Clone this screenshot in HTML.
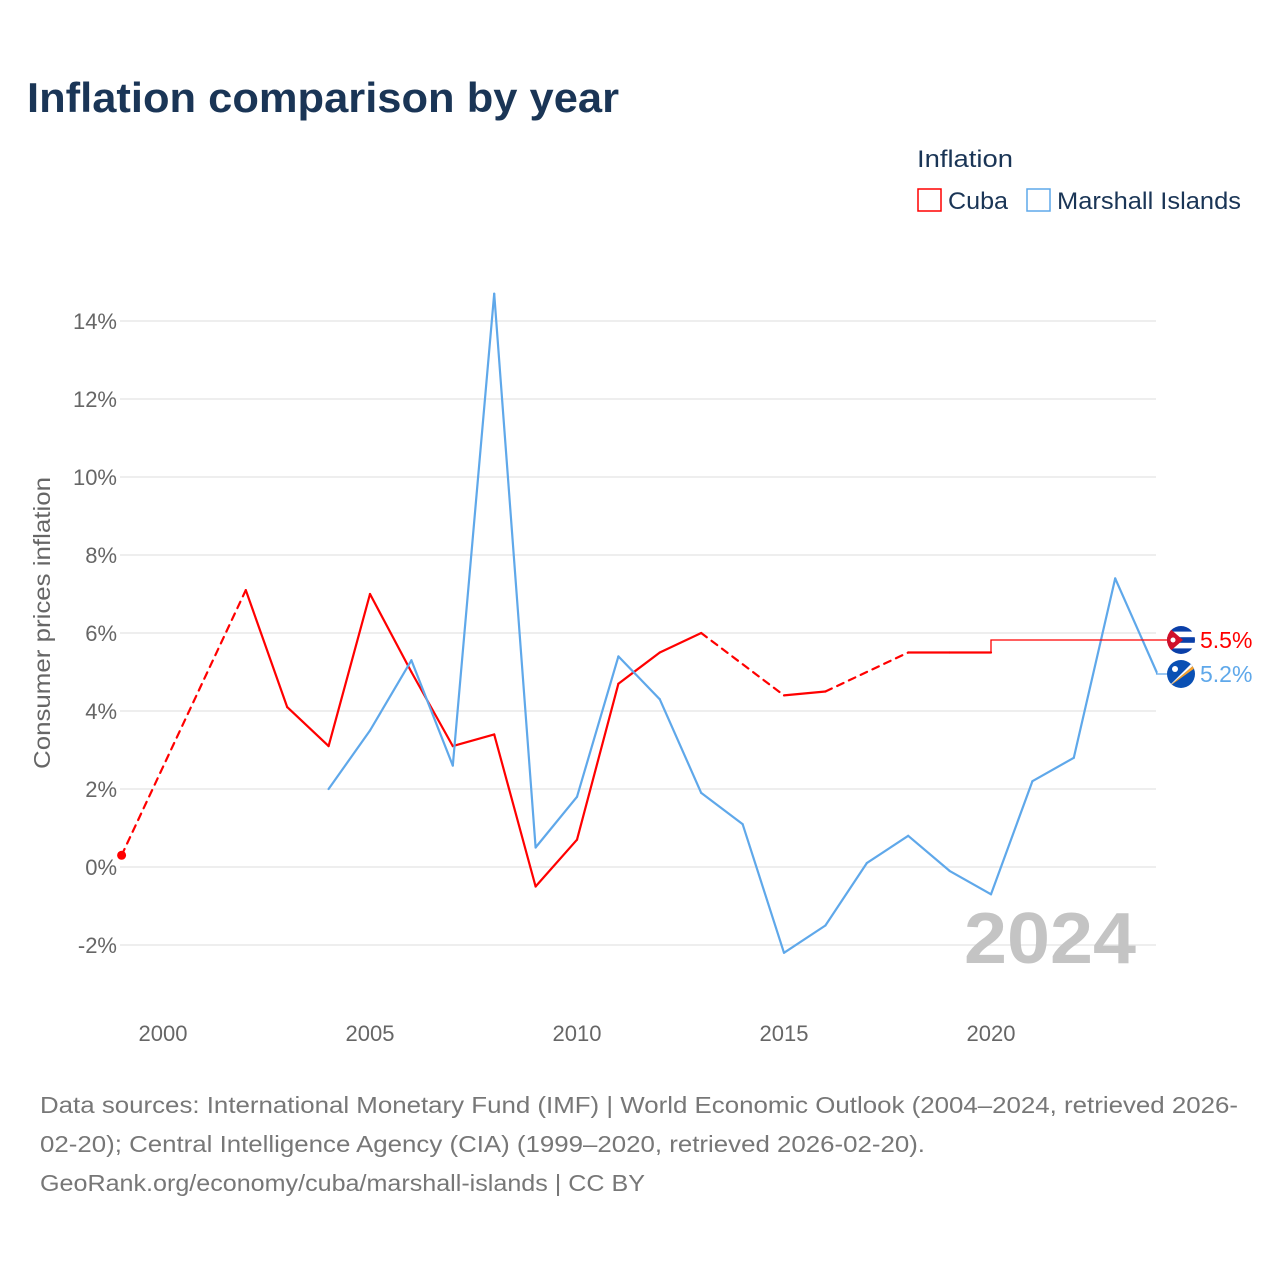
<!DOCTYPE html>
<html><head><meta charset="utf-8">
<style>
body{margin:0;background:#fff;}
svg text{font-family:"Liberation Sans",sans-serif;}
</style></head>
<body>
<svg id="chart" width="1280" height="1280" viewBox="0 0 1280 1280" xmlns="http://www.w3.org/2000/svg">
<rect width="1280" height="1280" fill="#fff"/>
<text x="27" y="112" font-size="42" font-weight="bold" fill="#1a3556" textLength="592" lengthAdjust="spacingAndGlyphs">Inflation comparison by year</text>
<g>
<text x="917" y="167" font-size="24" fill="#1a3556" textLength="96" lengthAdjust="spacingAndGlyphs">Inflation</text>
<g>
<rect x="918" y="189" width="23" height="22" fill="none" stroke="#ff0000" stroke-width="1.5"/>
<text x="948" y="209" font-size="24" fill="#1a3556" textLength="60" lengthAdjust="spacingAndGlyphs">Cuba</text></g>
<g>
<rect x="1027" y="189" width="23" height="22" fill="none" stroke="#5fa8ea" stroke-width="1.5"/>
<text x="1057" y="209" font-size="24" fill="#1a3556" textLength="184" lengthAdjust="spacingAndGlyphs">Marshall Islands</text></g>
</g>
<g id="grid"></g>
<g id="yaxis"></g>
<g id="xaxis"></g>
<text transform="translate(50,623) rotate(-90)" text-anchor="middle" font-size="23" fill="#666" textLength="292" lengthAdjust="spacingAndGlyphs">Consumer prices inflation</text>
<text x="1136" y="963" text-anchor="end" font-size="72" font-weight="bold" fill="#c4c4c4" textLength="172" lengthAdjust="spacingAndGlyphs">2024</text>
<g id="series"></g>
<g id="labels"></g>
<g font-size="23" fill="#777">
<text x="40" y="1113" textLength="1198" lengthAdjust="spacingAndGlyphs">Data sources: International Monetary Fund (IMF) | World Economic Outlook (2004–2024, retrieved 2026-</text>
<text x="40" y="1152" textLength="885" lengthAdjust="spacingAndGlyphs">02-20); Central Intelligence Agency (CIA) (1999–2020, retrieved 2026-02-20).</text>
<text x="40" y="1191" textLength="605" lengthAdjust="spacingAndGlyphs">GeoRank.org/economy/cuba/marshall-islands | CC BY</text>
</g>
</svg>
<script>
const years = [1999,2000,2001,2002,2003,2004,2005,2006,2007,2008,2009,2010,2011,2012,2013,2014,2015,2016,2017,2018,2019,2020,2021,2022,2023,2024];
const cuba = [0.3,null,null,7.1,4.1,3.1,7.0,5.0,3.1,3.4,-0.5,0.7,4.7,5.5,6.0,null,4.4,4.5,null,5.5,5.5,5.5,null,null,null,null];
const marshall = [null,null,null,null,null,2.0,3.5,5.3,2.6,14.7,0.5,1.8,5.4,4.3,1.9,1.1,-2.2,-1.5,0.1,0.8,-0.1,-0.7,2.2,2.8,7.4,5.0];
const yTicks = [-2,0,2,4,6,8,10,12,14];
const yTickLabels = ["-2%","0%","2%","4%","6%","8%","10%","12%","14%"];
const xTicks = [2000,2005,2010,2015,2020];
const cubaLabel = "5.5%";
const marshallLabel = "5.2%";

const NS="http://www.w3.org/2000/svg";
const X = y => 163 + (y-2000)*41.4;
const Y = v => 867 - v*39;
function mk(tag, attrs, parent){const e=document.createElementNS(NS,tag);for(const k in attrs)e.setAttribute(k,attrs[k]);parent.appendChild(e);return e;}
const grid=document.getElementById('grid'), ya=document.getElementById('yaxis'), xa=document.getElementById('xaxis');
yTicks.forEach((t,i)=>{
  const l=mk('line',{x1:120,x2:1156,y1:Y(t),y2:Y(t),stroke:'#e8e8e8','stroke-width':1.5},grid);
  
  
  const tx=mk('text',{x:117,y:Y(t)+8,'text-anchor':'end','font-size':22,fill:'#666'},ya);
  tx.textContent=yTickLabels[i];
  
  
});
xTicks.forEach(t=>{
  const tx=mk('text',{x:X(t),y:1041,'text-anchor':'middle','font-size':22,fill:'#666'},xa);
  tx.textContent=t;
  
  
});
const sg=document.getElementById('series');
function drawSeries(vals,color,name){
  const g=mk('g',{},sg);
  
  
  let prev=-1;
  for(let i=0;i<vals.length;i++){
    if(vals[i]===null) continue;
    if(prev>=0){
      const dashed=(i-prev)>1;
      const a={x1:X(years[prev]),y1:Y(vals[prev]),x2:X(years[i]),y2:Y(vals[i]),stroke:color,'stroke-width':2.2,'stroke-linecap':'round'};
      if(dashed)a['stroke-dasharray']='7,6';
      const s=mk('line',a,g);
      
      
    }
    prev=i;
  }
  return g;
}
const cg=drawSeries(cuba,'#ff0000','cuba');
const mg=drawSeries(marshall,'#5fa8ea','marshall-islands');
// start dot for cuba
const d=mk('circle',{cx:X(years[0]),cy:Y(cuba[0]),r:4.5,fill:'#ff0000'},cg);


// end connectors
const lastC = (()=>{let i=cuba.length-1;while(cuba[i]===null)i--;return i;})();
const lastM = marshall.length-1;
const lg=document.getElementById('labels');
const cy=640, my=674, fx=1181;
const cc=mk('polyline',{points:`${X(years[lastC])},${Y(cuba[lastC])} ${X(years[lastC])},${cy} ${fx-14},${cy}`,fill:'none',stroke:'#ff0000','stroke-width':1.3},lg);


const mc=mk('polyline',{points:`${X(years[lastM])},${Y(marshall[lastM])} ${X(years[lastM])},${my} ${fx-14},${my}`,fill:'none',stroke:'#5fa8ea','stroke-width':1.3},lg);


// flags
lg.insertAdjacentHTML('beforeend',`
<defs><clipPath id="c1"><circle cx="${fx}" cy="${cy}" r="14"/></clipPath><clipPath id="c2"><circle cx="${fx}" cy="${my}" r="14"/></clipPath></defs>
<g clip-path="url(#c1)">
<rect x="${fx-14}" y="${cy-14}" width="28" height="28" fill="#fff"/>
<rect x="${fx-14}" y="${cy-14}" width="28" height="5.6" fill="#0a3fa8"/>
<rect x="${fx-14}" y="${cy-2.8}" width="28" height="5.6" fill="#0a3fa8"/>
<rect x="${fx-14}" y="${cy+8.4}" width="28" height="5.6" fill="#0a3fa8"/>
<polygon points="${fx-14},${cy-14} ${fx+2},${cy} ${fx-14},${cy+14}" fill="#d0102a"/>
<circle cx="${fx-8}" cy="${cy}" r="2.5" fill="#fff"/>
</g>
<g clip-path="url(#c2)">
<rect x="${fx-14}" y="${my-14}" width="28" height="28" fill="#0a50b4"/>
<polygon points="${fx-14},${my+14} ${fx+14},${my-10} ${fx+14},${my-6}" fill="#f7a12b"/>
<polygon points="${fx-14},${my+14} ${fx+14},${my-14} ${fx+14},${my-10}" fill="#fff"/>
<circle cx="${fx-6}" cy="${my-5}" r="3" fill="#fff"/>
</g>`);
const t1=mk('text',{x:1200,y:cy+8,'font-size':23,fill:'#ff0000'},lg);
t1.textContent=cubaLabel;


const t2=mk('text',{x:1200,y:my+8,'font-size':23,fill:'#5fa8ea'},lg);
t2.textContent=marshallLabel;


</script>
</body></html>
